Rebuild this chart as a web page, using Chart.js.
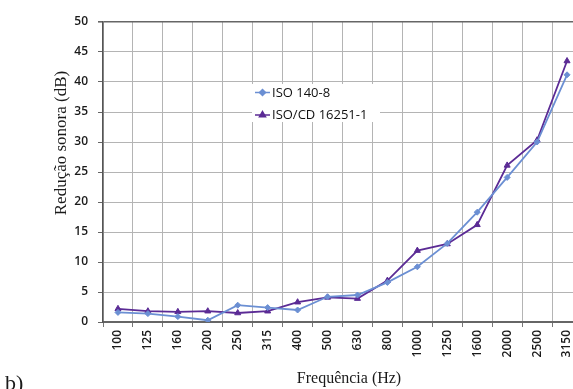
<!DOCTYPE html>
<html>
<head>
<meta charset="utf-8">
<script src="https://cdn.jsdelivr.net/npm/chart.js@4/dist/chart.umd.min.js"></script>
<style>
  html, body { margin: 0; padding: 0; background: #fff; overflow: hidden; }
  #wrap { width: 590px; height: 389px; }
</style>
</head>
<body>
<div id="wrap"><canvas id="c" width="590" height="389"></canvas></div>
<script>
// Frequency bands (Hz)
const categories = ['100','125','160','200','250','315','400','500','630','800','1000','1250','1600','2000','2500','3150'];
// Sound reduction (dB) per method
const iso140_8 = [1.6, 1.4, 0.9, 0.3, 2.8, 2.4, 2.0, 4.2, 4.5, 6.6, 9.2, 13.1, 18.3, 24.1, 30.0, 41.2];
const isoCd16251_1 = [2.2, 1.8, 1.7, 1.8, 1.5, 1.8, 3.3, 4.1, 3.9, 6.9, 11.9, 13.0, 16.2, 26.1, 30.3, 43.5];
const seriesNames = ['ISO 140-8', 'ISO/CD 16251-1'];
const yTicks = { min: 0, max: 50, step: 5 };

const blue = '#6b8fd3';
const purple = '#5b2b95';
const gridGrey = '#b4b4b4';

// Titles, panel letter and the in-plot legend
const annotations = {
  id: 'annotations',
  afterDatasetsDraw(chart) {
    const ctx = chart.ctx;
    ctx.save();
    // legend box
    ctx.fillStyle = '#ffffff';
    ctx.fillRect(252, 84, 128, 38);
    const rows = [
      { name: seriesNames[0], color: blue, style: 'rectRot', r: 3, y: 92.5 },
      { name: seriesNames[1], color: purple, style: 'triangle', r: 3.5, y: 115 }
    ];
    rows.forEach(row => {
      ctx.strokeStyle = row.color;
      ctx.lineWidth = 1.5;
      ctx.beginPath();
      ctx.moveTo(255, row.y);
      ctx.lineTo(270, row.y);
      ctx.stroke();
      ctx.fillStyle = row.color;
      Chart.helpers.drawPoint(ctx, { pointStyle: row.style, radius: row.r, borderWidth: 1 }, 262.5, row.y);
      ctx.fillStyle = '#111';
      ctx.font = '13px "Open Sans", sans-serif';
      ctx.textAlign = 'left';
      ctx.textBaseline = 'middle';
      ctx.fillText(row.name, 272, row.y + 0.5);
    });
    // axis titles
    ctx.fillStyle = '#1a1a1a';
    ctx.font = '16px "Liberation Serif", serif';
    ctx.textAlign = 'center';
    ctx.textBaseline = 'middle';
    ctx.fillText('Frequência (Hz)', 349, 379);
    ctx.save();
    ctx.translate(62, 143);
    ctx.rotate(-Math.PI / 2);
    ctx.font = '17px "Liberation Serif", serif';
    ctx.fillText('Redução sonora (dB)', 0, 0);
    ctx.restore();
    // panel letter
    ctx.font = '22px "Liberation Serif", serif';
    ctx.textAlign = 'left';
    ctx.textBaseline = 'alphabetic';
    ctx.fillText('b)', 5, 390);
    ctx.restore();
  }
};

new Chart(document.getElementById('c'), {
  type: 'line',
  data: {
    labels: categories,
    datasets: [
      {
        label: seriesNames[0],
        data: iso140_8,
        borderColor: blue,
        backgroundColor: blue,
        borderWidth: 1.8,
        pointStyle: 'rectRot',
        pointRadius: 3,
        pointBorderWidth: 1,
        tension: 0
      },
      {
        label: seriesNames[1],
        data: isoCd16251_1,
        borderColor: purple,
        backgroundColor: purple,
        borderWidth: 1.8,
        pointStyle: 'triangle',
        pointRadius: 3.5,
        pointBorderWidth: 1,
        tension: 0
      }
    ]
  },
  options: {
    responsive: false,
    animation: false,
    devicePixelRatio: 1,
    layout: { padding: { top: 22, right: 8, left: 0, bottom: 0 } },
    plugins: { legend: { display: false }, tooltip: { enabled: false } },
    scales: {
      x: {
        type: 'category',
        offset: true,
        grid: {
          offset: true,
          color: gridGrey,
          lineWidth: 1,
          tickLength: 5,
          tickColor: '#777'
        },
        border: { color: '#666', width: 2 },
        ticks: {
          minRotation: 90,
          maxRotation: 90,
          autoSkip: false,
          padding: 3,
          color: '#1a1a1a',
          font: { family: '"Open Sans", sans-serif', size: 12, weight: '600' }
        },
        afterFit(scale) { scale.height = 67; }
      },
      y: {
        min: yTicks.min,
        max: yTicks.max,
        grid: {
          color: ctx => (ctx.tick && ctx.tick.value === yTicks.max ? '#666' : gridGrey),
          lineWidth: ctx => (ctx.tick && ctx.tick.value === yTicks.max ? 1.6 : 1),
          tickLength: 5,
          tickColor: '#666'
        },
        border: { color: '#555', width: 1.5 },
        ticks: {
          stepSize: yTicks.step,
          padding: 10,
          color: '#1a1a1a',
          font: { family: '"Open Sans", sans-serif', size: 12, weight: '600' }
        },
        afterFit(scale) { scale.width = 103; }
      }
    }
  },
  plugins: [annotations]
});
</script>
</body>
</html>
